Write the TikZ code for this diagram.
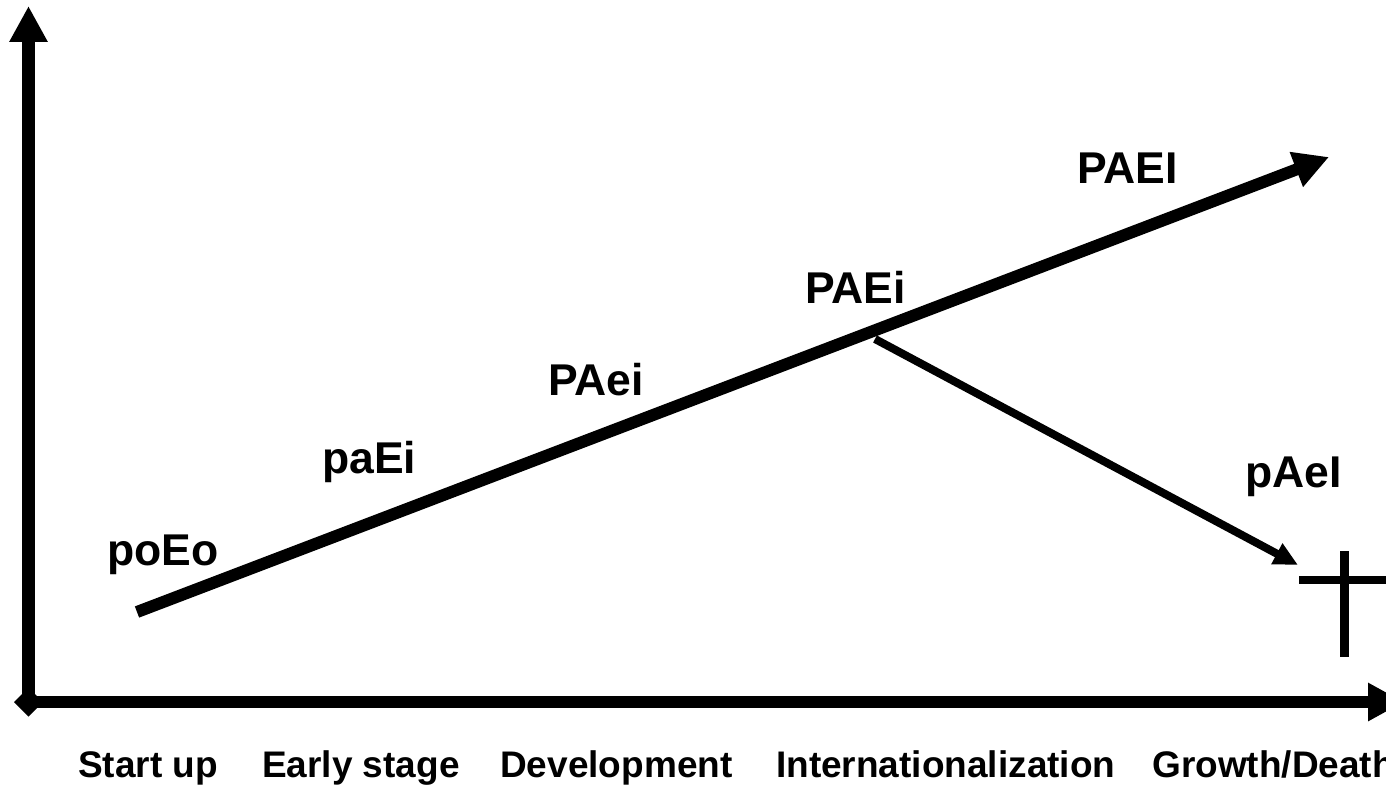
\documentclass[tikz,border=0pt]{standalone}
\usepackage{fontspec}
\setmainfont{Liberation Sans}
\usetikzlibrary{arrows.meta}
\tikzset{
  axis/.style={line width=12.5pt, -{Triangle[width=36pt,length=36pt]}},
  mainpath/.style={line width=12pt, -{Triangle[width=35pt,length=35pt]}},
  branch/.style={line width=8pt, -{Triangle[width=22pt,length=24pt]}},
  crossbar/.style={line width=8.5pt},
  phase/.style={inner sep=0pt, anchor=base west, font=\fontsize{44.5}{50}\selectfont\bfseries},
  stage/.style={inner sep=0pt, anchor=base west, font=\fontsize{37}{42}\selectfont\bfseries}
}
\begin{document}
\begin{tikzpicture}[x=1pt, y=-1pt]
\useasboundingbox (0,0) rectangle (1386,789);
\clip (0,0) rectangle (1386,789);

% axes
\coordinate (origin) at (28.5,702);
\coordinate (ytop) at (28.5,6);
\coordinate (xend) at (1404,702);
\draw[axis] (origin) -- (ytop);
\draw[axis] (origin) -- (xend);
\node[fill=black, minimum size=20.5pt, inner sep=0pt, rotate=45] (corner) at (origin) {};

% life-cycle path
\coordinate (start) at (137,612);
\coordinate (tip) at (1329,157);
\coordinate (fork) at (875,339);
\coordinate (decline) at (1298,565);
\draw[mainpath] (start) -- (tip);
\draw[branch] (fork) -- (decline);

% cross marking the end of the declining path
\coordinate (crossL) at (1299,580);
\coordinate (crossR) at (1392,580);
\coordinate (crossT) at (1344.5,551);
\coordinate (crossB) at (1344.5,657);
\draw[crossbar] (crossL) -- (crossR);
\draw[crossbar] (crossT) -- (crossB);

% phase codes
\node[phase] (p1) at (107,565) {poEo};
\node[phase] (p2) at (322,473) {paEi};
\node[phase] (p3) at (548,395) {PAei};
\node[phase] (p4) at (805,303) {PAEi};
\node[phase] (p5) at (1077,183) {PAEI};
\node[phase] (p6) at (1245,487) {pAeI};

% stages along the time axis
\node[stage] (s1) at (78,777) {Start up};
\node[stage] (s2) at (262,777) {Early stage};
\node[stage] (s3) at (500,777) {Development};
\node[stage] (s4) at (776,777) {Internationalization};
\node[stage] (s5) at (1152,777) {Growth/Death};
\end{tikzpicture}
\end{document}
